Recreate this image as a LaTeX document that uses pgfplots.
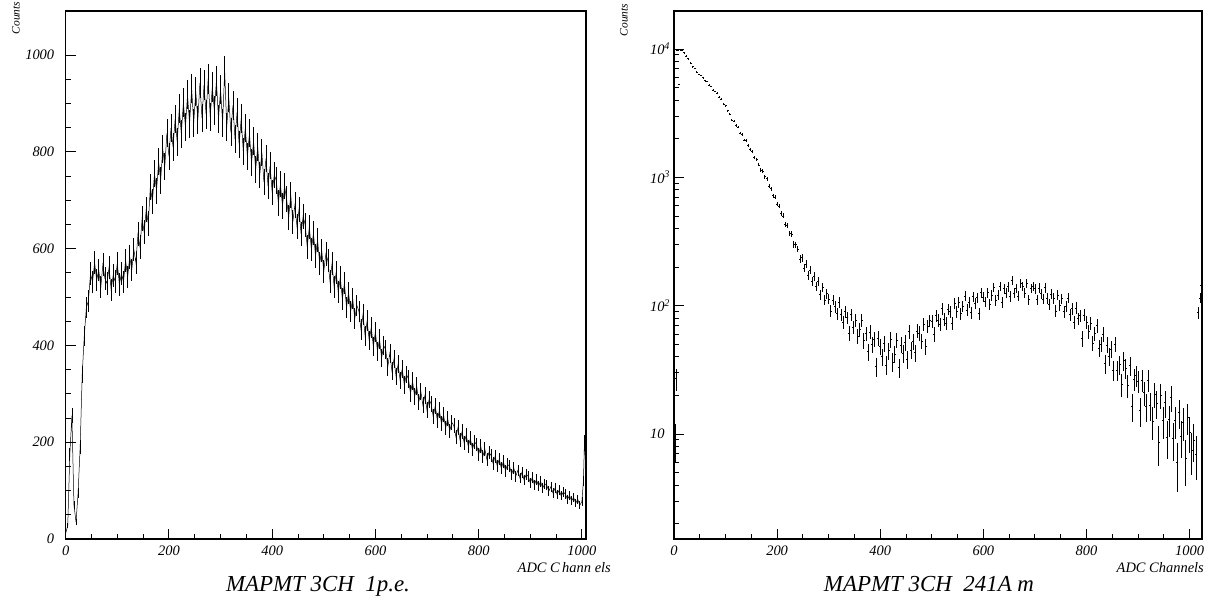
\documentclass[border=0pt]{standalone}
\usepackage{fontspec}
\setmainfont{Liberation Serif}
\usepackage{pgfplots}
\usepackage{pgfplotstable}
\usetikzlibrary{plotmarks}
\pgfplotsset{compat=1.18}

\pgfplotstableread{
x y
0 12
4 28
8 175
12 255
16 70
20 35
24 95
28 190
32 340
36 420
40 478
44 492
48 548
52 531
56 571
60 535
64 556
68 520
72 567
76 538
80 528
84 561
88 515
92 545
96 532
100 570
104 526
108 549
112 531
116 576
120 541
124 583
128 556
132 598
136 571
140 630
144 603
148 662
152 634
156 681
160 652
164 728
168 697
172 755
176 720
180 779
184 741
188 806
192 770
196 838
200 791
204 849
208 810
212 868
216 821
220 889
224 837
228 902
232 851
236 918
240 858
244 931
248 860
252 925
256 866
260 942
264 870
268 938
272 877
276 951
280 872
284 934
288 885
292 947
296 868
300 929
304 860
308 967
312 851
316 912
320 840
324 896
328 826
332 882
336 815
340 869
344 801
348 850
352 790
356 838
360 777
364 822
368 763
372 810
376 752
380 799
384 738
388 786
392 729
396 771
400 716
404 752
408 741
412 694
416 733
420 688
424 729
428 702
432 664
436 711
440 655
444 690
448 646
452 681
456 630
460 667
464 649
468 603
472 645
476 598
480 632
484 585
488 618
492 570
496 596
500 553
504 589
508 575
512 532
516 569
520 521
524 551
528 510
532 540
536 496
540 529
544 478
548 509
552 470
556 497
560 455
564 483
568 471
572 433
576 464
580 420
584 451
588 410
592 437
596 398
600 428
604 388
608 413
612 374
616 400
620 391
624 356
628 384
632 347
636 372
640 336
644 361
648 327
652 352
656 318
660 340
664 331
668 301
672 326
676 294
680 316
684 283
688 305
692 276
696 297
700 266
704 288
708 279
712 253
716 275
720 245
724 266
728 238
732 257
736 229
740 249
744 223
748 241
752 234
756 211
760 230
764 204
768 222
772 198
776 215
780 191
784 208
788 185
792 201
796 195
800 175
804 192
808 170
812 186
816 164
820 179
824 173
828 156
832 171
836 151
840 165
844 146
848 160
852 141
856 154
860 150
864 134
868 147
872 130
876 142
880 126
884 138
888 122
892 133
896 130
900 116
904 127
908 112
912 123
916 109
920 119
924 105
928 114
932 111
936 99
940 108
944 95
948 105
952 92
956 101
960 89
964 97
968 93
972 82
976 90
980 79
984 86
988 74
992 82
996 70
1000 77
1003 120
1005 200
1007 165
1008 115
}\leftdata

\pgfplotstableread{
x y
0 2.5
2 9
4 27
6 9800
8 9900
10 5300
12 9900
16 9750
20 9350
24 8820
28 8410
32 7790
36 7290
40 7050
44 6600
48 6330
52 6240
56 5990
60 5660
64 5590
68 5250
72 5110
76 4800
80 4670
84 4550
88 4200
92 4080
96 3720
100 3620
104 3300
108 3100
112 2800
116 2740
120 2530
124 2460
128 2220
132 2150
136 1950
140 1930
144 1770
148 1640
152 1600
156 1420
160 1380
164 1250
168 1140
172 1120
176 1010
180 975
184 850
188 815
192 720
196 701
200 618
204 596
208 520
212 501
216 431
220 422
224 366
228 360
232 301
236 298
240 277
244 231
248 236
252 196
256 211
260 172
264 189
268 155
272 170
276 141
280 154
284 122
288 139
292 111
296 124
300 113
304 91
308 111
312 98
316 87
320 107
324 85
328 74
332 90
336 81
340 61
344 85
348 68
352 77.5
356 58
360 65
364 77
368 53.5
372 60.5
376 44
380 62.5
384 50
388 55
392 33.5
396 56
400 48
404 40
408 50.5
412 34.5
416 44.5
420 54.5
424 36.5
428 42
432 54
436 33
440 49.5
444 42.5
448 51.5
452 38.5
456 63
460 45
464 52.5
468 43
472 63.5
476 61
480 53
484 71.5
488 48.5
492 69
496 76.5
500 75.8
504 60
508 83.6
512 77
516 71.6
520 94.8
524 78.5
528 72.7
532 93.5
536 90
540 73
544 104.8
548 89.7
552 105.5
556 86.7
560 98.7
564 119
568 92.6
572 106.2
576 88
580 117.5
584 104
588 115.5
592 86.8
596 126
600 117
604 107.3
608 126.6
612 102.5
616 120.6
620 139.4
624 110.7
628 121.4
632 141.9
636 107
640 135.7
644 125.3
648 140.6
652 118.2
656 157.9
660 125.7
664 136.4
668 118.7
672 148.6
676 141.6
680 125.7
684 150.3
688 111.3
692 136.1
696 141.5
700 135.8
704 111.1
708 137.4
712 124.3
716 113
720 137.8
724 113.9
728 103
732 122.8
736 114.2
740 90.8
744 121.3
748 100.8
752 113.6
756 90.3
760 98.6
764 114.9
768 85.7
772 94.8
776 74
780 96.2
784 79.1
788 84
792 55.5
796 84.6
800 74.8
804 62.7
808 73.3
812 51.3
816 60.7
820 69.7
824 46.7
828 50.4
832 59.9
836 35.3
840 49.5
844 40.3
848 46.1
852 31.4
856 50.4
860 31.3
864 34.8
868 24.4
872 37.2
876 32.5
880 24.1
884 34.3
888 16.4
892 26.8
896 28.6
900 25.8
904 15.3
908 26.2
912 21
916 16.5
920 26.3
924 16.8
928 12.6
932 20.4
936 17.3
940 8.6
944 20.2
948 12.8
952 17.6
956 9.5
960 13
964 19.3
968 9.2
972 12.8
976 6.0
980 14.7
984 9.6
988 12.3
992 6.5
996 13.5
1000 10.3
1004 7.5
1008 9
1012 7
1016 88
1020 115
1023 145
}\rightdata

\begin{document}
\begin{tikzpicture}
\useasboundingbox (0,0) rectangle (1213bp,603bp);
\pgfplotsset{
  hb/.style={
    scale only axis,
    axis line style={line width=1.1bp},
    tick style={black, line width=0.9bp},
    major tick length=10bp,
    minor tick length=5bp,
    tick align=inside,
    tick pos=left,
    tick label style={font=\fontsize{14.5}{16}\selectfont\itshape},
    /pgf/number format/assume math mode=true,
    /pgf/number format/1000 sep={},
    xtick={0,200,...,1000},
    minor x tick num=3,
    xticklabel style={yshift=-3bp},
  }
}
% left panel
\begin{axis}[hb,
  at={(65.7bp,64bp)}, anchor=south west,
  width=520.3bp, height=528bp,
  xmin=0, xmax=1008, ymin=0, ymax=1091,
  ytick={0,200,...,1000}, minor y tick num=3,
  yticklabel style={xshift=-8bp},
]
\addplot[black, line width=0.5bp,
  error bars/.cd, y dir=both, y explicit, error mark=none,
  error bar style={line width=0.7bp, black}]
  table[x=x, y=y, y error expr={sqrt(\thisrow{y})}] {\leftdata};
\end{axis}
% right panel
\begin{axis}[hb,
  at={(674bp,64bp)}, anchor=south west,
  width=528bp, height=528bp,
  ymode=log,
  xmin=0, xmax=1024, ymin=1.52, ymax=19770,
  ytick={10,100,1000,10000},
  yticklabels={10, 10\rlap{\textsuperscript{2}}, 10\rlap{\textsuperscript{3}}, 10\rlap{\textsuperscript{4}}},
  minor ytick={2,3,4,5,6,7,8,9,20,30,40,50,60,70,80,90,200,300,400,500,600,700,800,900,2000,3000,4000,5000,6000,7000,8000,9000},
  yticklabel style={xshift=-6bp},
]
\addplot[black, only marks, mark=-, mark size=1bp, mark options={line width=0.6bp},
  error bars/.cd, y dir=both, y explicit, error mark=none,
  error bar style={line width=0.6bp, black}]
  table[x=x, y=y, y error expr={sqrt(\thisrow{y})}] {\rightdata};
\end{axis}
% texts
\node[rotate=90, font=\fontsize{11.5}{12}\selectfont\itshape] at (16bp,585bp) {Counts};
\node[rotate=90, font=\fontsize{11.5}{12}\selectfont\itshape] at (624bp,583bp) {Counts};
\node[anchor=base, font=\fontsize{23}{26}\selectfont\itshape, inner sep=0pt] at (318bp,12bp) {MAPMT 3CH\ \ 1p.e.};
\node[anchor=base, font=\fontsize{23}{26}\selectfont\itshape, inner sep=0pt] at (929bp,12bp) {MAPMT 3CH\ \ 241A m};
\node[anchor=base east, font=\fontsize{14.5}{16}\selectfont\itshape, inner sep=0pt] at (611bp,31bp) {ADC C\,hann els};
\node[anchor=base east, font=\fontsize{14.5}{16}\selectfont\itshape, inner sep=0pt] at (1204bp,31bp) {ADC Channels};
\end{tikzpicture}
\end{document}
